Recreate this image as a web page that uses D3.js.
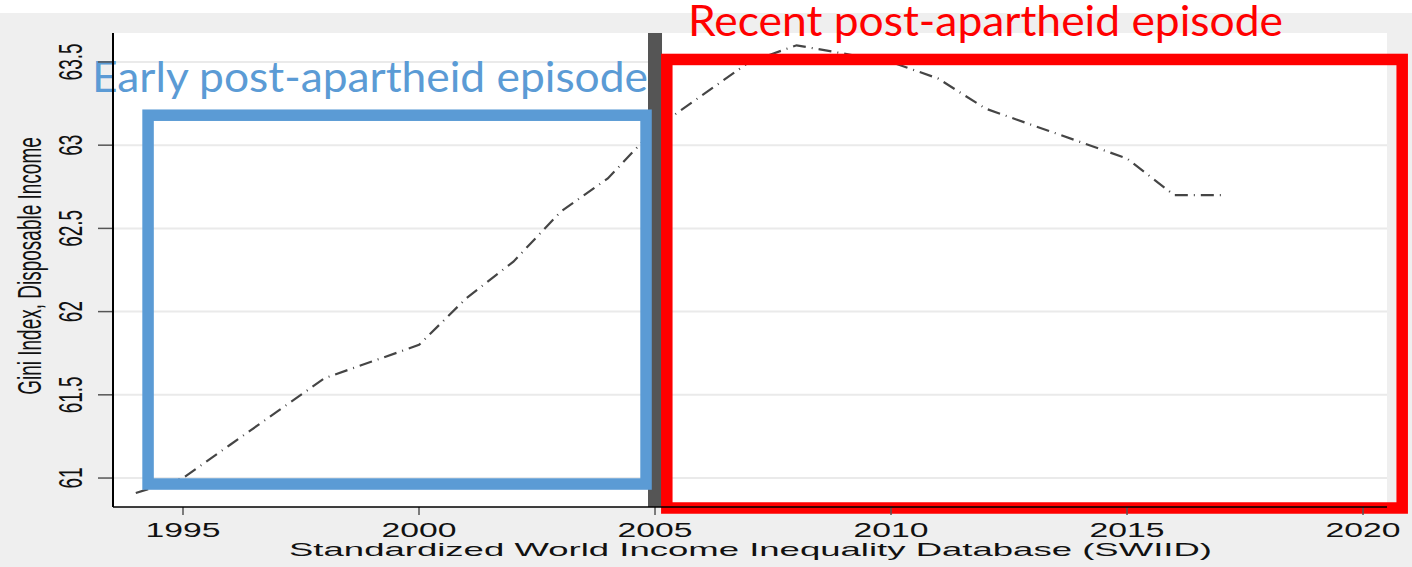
<!DOCTYPE html>
<html>
<head>
<meta charset="utf-8">
<script src="https://cdn.jsdelivr.net/npm/d3@7"></script>
<style>
  html, body { margin: 0; padding: 0; background: #ffffff; }
  svg { display: block; }
</style>
</head>
<body>
<svg id="chart" width="1412" height="567"></svg>
<script>
// ---- Data ----
const years = [1994, 1995, 1996, 1997, 1998, 1999, 2000, 2001, 2002, 2003, 2004, 2005,
               2006, 2007, 2008, 2009, 2010, 2011, 2012, 2013, 2014, 2015, 2016, 2017];
const gini = [60.91, 61.0, 61.2, 61.4, 61.6, 61.7, 61.8, 62.08, 62.3, 62.6, 62.8, 63.1,
              63.3, 63.5, 63.6, 63.55, 63.5, 63.4, 63.22, 63.12, 63.02, 62.92, 62.7, 62.7];
const xTicks = [1995, 2000, 2005, 2010, 2015, 2020];
const yTicks = [61, 61.5, 62, 62.5, 63, 63.5];
const yTickLabels = ["61", "61.5", "62", "62.5", "63", "63.5"];
const yTitle = "Gini Index, Disposable Income";
const xTitle = "Standardized World Income Inequality Database (SWIID)";
const earlyLabel = "Early post-apartheid episode";
const recentLabel = "Recent post-apartheid episode";
// episode boxes in data units [yearStart, yearEnd, giniLow, giniHigh]
const earlyBox = [1994.26, 2004.81, 60.964, 63.18];
const recentBox = [2005.25, 2020.83, 60.82, 63.515];
const dividerYear = 2005;

// ---- Layout ----
const W = 1412, H = 567;
const plot = { left: 113, right: 1387, top: 33, bottom: 507 };

const svg = d3.select("#chart");

const x = d3.scaleLinear().domain([1993.517, 2020.508]).range([plot.left, plot.right]);
const y = d3.scaleLinear().domain([60.826, 63.674]).range([plot.bottom, plot.top]);

// background
svg.append("rect").attr("x", 0).attr("y", 0).attr("width", W).attr("height", H).attr("fill", "#efefef");
svg.append("rect").attr("x", 0).attr("y", 0).attr("width", W).attr("height", 13).attr("fill", "#ffffff");
svg.append("rect").attr("x", plot.left).attr("y", plot.top)
  .attr("width", plot.right - plot.left).attr("height", plot.bottom - plot.top).attr("fill", "#ffffff");

// gridlines
svg.append("g").selectAll("line").data(yTicks).join("line")
  .attr("x1", plot.left).attr("x2", plot.right)
  .attr("y1", d => y(d)).attr("y2", d => y(d))
  .attr("stroke", "#eaeaea").attr("stroke-width", 2);

// annotation texts (under the axis line)
svg.append("text")
  .attr("x", 92).attr("y", 92)
  .attr("font-family", "Lato, 'Open Sans', sans-serif")
  .attr("font-size", 42)
  .attr("fill", "#5b9bd5")
  .attr("textLength", 556).attr("lengthAdjust", "spacingAndGlyphs")
  .text(earlyLabel);
svg.append("text")
  .attr("x", 688).attr("y", 36)
  .attr("font-family", "Lato, 'Open Sans', sans-serif")
  .attr("font-size", 42)
  .attr("fill", "#ff0000")
  .attr("textLength", 595).attr("lengthAdjust", "spacingAndGlyphs")
  .text(recentLabel);

// data line
const line = d3.line().x((d, i) => x(years[i])).y(d => y(d));
svg.append("path")
  .datum(gini)
  .attr("d", line)
  .attr("fill", "none")
  .attr("stroke", "#454545")
  .attr("stroke-width", 2.2)
  .attr("stroke-dasharray", "13,6,1,6");

// divider bar
svg.append("rect")
  .attr("x", x(dividerYear) - 7).attr("y", plot.top)
  .attr("width", 14).attr("height", plot.bottom - plot.top)
  .attr("fill", "#555555");

// episode boxes
function box(b, color) {
  svg.append("rect")
    .attr("x", x(b[0])).attr("y", y(b[3]))
    .attr("width", x(b[1]) - x(b[0])).attr("height", y(b[2]) - y(b[3]))
    .attr("fill", "none").attr("stroke", color).attr("stroke-width", 11.5);
}
box(earlyBox, "#5b9bd5");
box(recentBox, "#ff0000");

// y axis
const yAxisG = svg.append("g");
yAxisG.selectAll("line.tick").data(yTicks).join("line")
  .attr("class", "tick")
  .attr("x1", plot.left - 15).attr("x2", plot.left)
  .attr("y1", d => y(d)).attr("y2", d => y(d))
  .attr("stroke", "#555").attr("stroke-width", 1.5);
yAxisG.append("line")
  .attr("x1", plot.left).attr("x2", plot.left)
  .attr("y1", plot.top).attr("y2", plot.bottom)
  .attr("stroke", "#000").attr("stroke-width", 2);
yAxisG.selectAll("text").data(yTicks).join("text")
  .attr("transform", d => `translate(82,${y(d)}) scale(1.75,1) rotate(-90)`)
  .attr("text-anchor", "middle")
  .attr("font-family", "'Liberation Sans', Arial, sans-serif")
  .attr("font-size", 19)
  .attr("fill", "#111")
  .text((d, i) => yTickLabels[i]);
svg.append("text")
  .attr("transform", `translate(41,266) scale(1.75,1) rotate(-90)`)
  .attr("text-anchor", "middle")
  .attr("font-family", "'Liberation Sans', Arial, sans-serif")
  .attr("font-size", 19)
  .attr("fill", "#111")
  .text(yTitle);

// x axis
const xAxisG = svg.append("g");
xAxisG.selectAll("line.tick").data(xTicks).join("line")
  .attr("class", "tick")
  .attr("x1", d => x(d)).attr("x2", d => x(d))
  .attr("y1", plot.bottom).attr("y2", plot.bottom + 8)
  .attr("stroke", "#555").attr("stroke-width", 1.5);
xAxisG.append("line")
  .attr("x1", plot.left).attr("x2", plot.right)
  .attr("y1", plot.bottom).attr("y2", plot.bottom)
  .attr("stroke", "#000").attr("stroke-width", 1.5);
xAxisG.selectAll("text").data(xTicks).join("text")
  .attr("x", d => x(d) - 37.5).attr("y", 537)
  .attr("font-family", "'Liberation Sans', Arial, sans-serif")
  .attr("font-size", 19.5)
  .attr("fill", "#111")
  .attr("textLength", 75).attr("lengthAdjust", "spacingAndGlyphs")
  .text(d => d);
svg.append("text")
  .attr("x", 289).attr("y", 556)
  .attr("font-family", "'Liberation Sans', Arial, sans-serif")
  .attr("font-size", 18.6)
  .attr("fill", "#111")
  .attr("textLength", 923).attr("lengthAdjust", "spacingAndGlyphs")
  .text(xTitle);
</script>
</body>
</html>
